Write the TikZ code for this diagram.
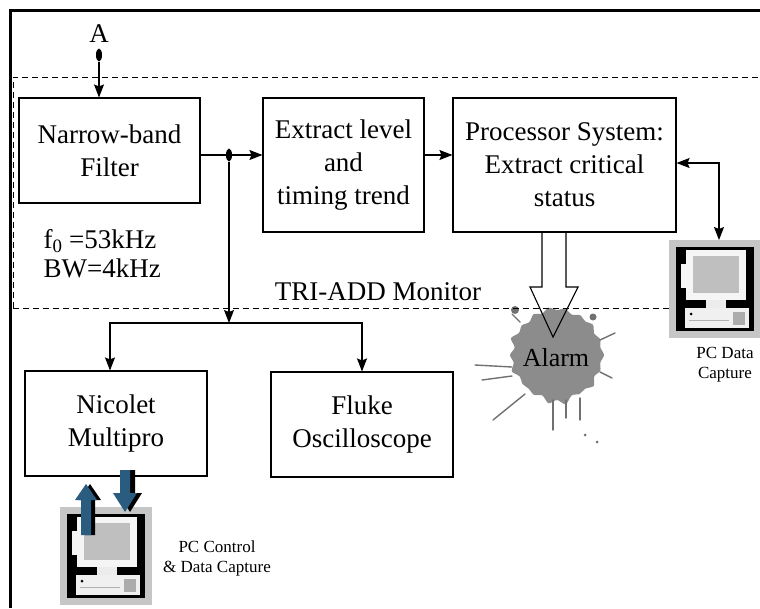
\documentclass[tikz,border=0pt]{standalone}
\usepackage{fontspec}
\setmainfont{Liberation Serif}
\usetikzlibrary{shapes.geometric, arrows.meta, positioning, calc}

\definecolor{pcblue}{RGB}{42,92,128}
\definecolor{splat}{RGB}{140,140,140}

\tikzset{
  pcunit/.pic={
    \fill[gray!45] (0,0) rectangle (92,98);
    \fill[black] (7,7) rectangle (85,91);
    \fill[gray!8] (17,10) rectangle (77,60);
    \fill[gray!50] (24,16) rectangle (70,53);
    \fill[gray!8] (12,24) rectangle (17,48);
    \fill[gray!15] (37,60) rectangle (57,68);
    \fill[gray!12] (16,68) rectangle (80,88);
    \fill[gray!65] (64,72) rectangle (76,85);
    \draw[gray!60] (20,80) -- (60,80);
    \fill[black] (22,74) circle (1.5pt);
  }
}

\begin{document}
\begin{tikzpicture}[
  x=1pt, y=-1pt,
  block/.style={rectangle, draw, line width=1.1pt, align=center, font=\fontsize{27}{33}\selectfont},
  note/.style={align=left, font=\fontsize{27}{29}\selectfont},
  small/.style={align=center, font=\fontsize{17}{20}\selectfont},
  arrow/.style={-{Stealth[length=13pt, width=10pt, inset=2pt]}, line width=1.1pt},
  dualarrow/.style={{Stealth[length=13pt, width=10pt, inset=2pt]}-{Stealth[length=13pt, width=10pt, inset=2pt]}, line width=1.1pt},
  border/.style={dashed, dash pattern=on 6pt off 4pt, line width=1pt},
  tap/.style={ellipse, fill, inner sep=0pt, minimum width=6pt, minimum height=13pt},
  drip/.style={draw=splat!80!black, line width=1.4pt, line cap=round}
]
\useasboundingbox (0,0) rectangle (760,608);

% alarm splash
\fill[splat, shift={(557,355)}] plot[smooth cycle] coordinates {
  (0:47) (10:44) (20:46) (30:43) (40:48) (50:44) (60:45) (70:43) (80:50)
  (90:45) (100:49) (110:43) (120:46) (130:44) (140:45) (150:43) (160:48)
  (170:44) (180:47) (190:43) (200:49) (210:44) (220:46) (230:43) (240:47)
  (250:44) (260:48) (270:45) (280:47) (290:43) (300:46) (310:44) (320:47)
  (330:43) (340:46) (350:44)};
\draw[drip] (475,365) -- (512,367);
\draw[drip] (482,380) -- (512,376);
\draw[drip] (493,420) -- (525,394);
\draw[drip] (553,400) -- (553,430);
\draw[drip] (566,400) -- (566,418);
\draw[drip] (580,398) -- (580,420);
\draw[drip] (600,340) -- (615,333);
\draw[drip] (600,372) -- (612,378);
\draw[drip] (520,322) -- (512,314);
\fill[splat!80!black] (515,310) circle (4pt) (593,317) circle (3.5pt)
  (585,435) circle (1.5pt) (597,442) circle (1.5pt);

% frame and monitor boundary
\draw[line width=3pt] (10,608) -- (10,10) -- (760,10);
\draw[border] (13,308) -- (13,77) -- (760,77);
\draw[border] (13,308) -- (760,308);

\node[block, minimum width=181pt, minimum height=105pt] (filter) at (109.5,150.5) {Narrow-band\\Filter};
\node[block, minimum width=161pt, minimum height=134pt] (extract) at (343.5,165) {Extract level\\and\\timing trend};
\node[block, minimum width=223pt, minimum height=134pt] (proc) at (564.5,165) {Processor System:\\Extract critical\\status};
\node[block, minimum width=182pt, minimum height=105pt] (nicolet) at (116,423.5) {Nicolet\\Multipro};
\node[block, minimum width=182pt, minimum height=105pt] (fluke) at (362,424.5) {Fluke\\Oscilloscope};

\node[note, anchor=west] (spec) at (40,254) {f\textsubscript{0} =53kHz\\BW=4kHz};
\node[note] (mon) at (378,292) {TRI-ADD Monitor};
\node[font=\fontsize{27}{27}\selectfont] (inA) at (99,34) {A};

\node[tap] (atap) at (99,55) {};
\node[tap] (split) at (229,155) {};
\coordinate (fork) at (229,323);

\draw[arrow] (atap) -- (atap |- filter.north);
\draw[line width=1.1pt] (filter.east |- split) -- (split);
\draw[arrow] (split) -- (extract.west |- split);
\draw[arrow] ([yshift=10pt]extract.east) -- ([yshift=10pt]proc.west);
\draw[arrow] (split) -- (fork);
\draw[arrow] (fork) -| (110,0 |- nicolet.north);
\draw[arrow] (fork) -| (362,0 |- fluke.north);

% PC units
\pic at (669,240) {pcunit};
\pic at (60,507) {pcunit};
\coordinate (pcright) at (719,240);
\draw[dualarrow] ([yshift=2pt]proc.east) -| (pcright);
\node[small] (pcdata) at (725,365) {PC Data\\Capture};
\node[small] (pcctrl) at (217,558) {PC Control\\\& Data Capture};

\fill[black] (85,535) -- (85,500) -- (79,500) -- (90,484) -- (101,500) -- (95,500) -- (95,535) -- cycle;
\fill[pcblue] (81,535) -- (81,500) -- (75,500) -- (86,484) -- (97,500) -- (91,500) -- (91,535) -- cycle;
\fill[black] (125,470) -- (125,493) -- (118,493) -- (130,512) -- (142,493) -- (135,493) -- (135,470) -- cycle;
\fill[pcblue] (120,470) -- (120,493) -- (113,493) -- (125,512) -- (137,493) -- (130,493) -- (130,470) -- cycle;

% alarm output
\draw[line width=1.1pt, line join=miter] (542,232) -- (542,287) -- (530,287) -- (553,337) -- (578,287) -- (566,287) -- (566,232);
\node[font=\fontsize{26}{26}\selectfont] (alarm) at (556,358) {Alarm};
\end{tikzpicture}
\end{document}
